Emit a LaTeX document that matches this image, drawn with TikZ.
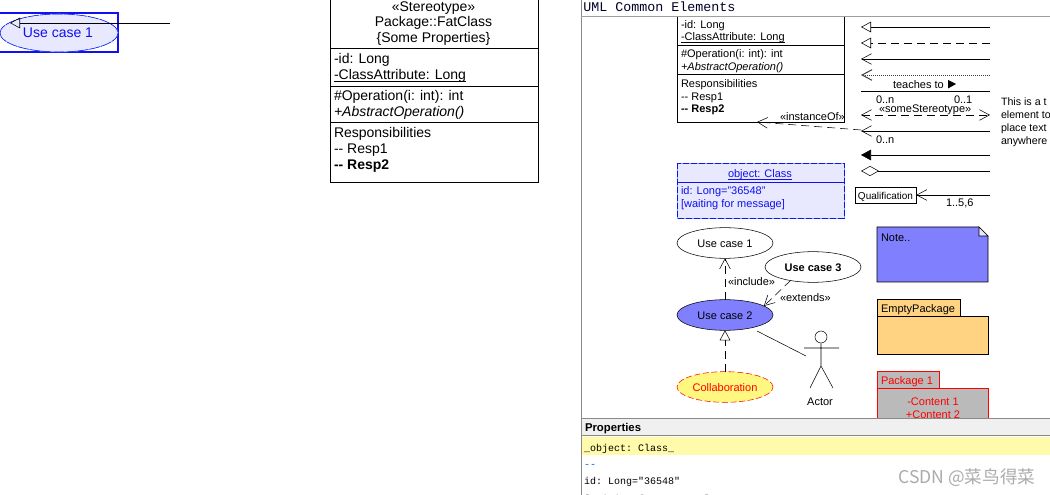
\documentclass[tikz,border=0pt]{standalone}
\usepackage{fontspec}
\setmainfont{Liberation Sans}
\setmonofont{Liberation Mono}
\newfontfamily\cjkf{Noto Sans CJK SC}
\usetikzlibrary{arrows.meta,shapes.geometric,calc}
\definecolor{selfill}{HTML}{E8E8FF}
\definecolor{selblue}{HTML}{1010F0}
\definecolor{selcyan}{HTML}{66AAFF}
\definecolor{ucblue}{HTML}{8080FF}
\definecolor{pkgorange}{HTML}{FFD382}
\definecolor{panelline}{HTML}{8A8A8A}
\newcommand\ulx[1]{\setbox0\hbox{#1}\leavevmode\rlap{\copy0}\rule[-1.5pt]{\wd0}{.7pt}}
\tikzset{
  x=.75pt,y=-.75pt,line width=.75pt,
  tx/.style={inner sep=0pt,outer sep=0pt,text height=.9em,text depth=.2em},
  txs/.style={tx,font=\fontsize{8.25pt}{10pt}\selectfont},
  txm/.style={tx,font=\fontsize{10.5pt}{12pt}\selectfont},
  txp/.style={tx,font=\ttfamily\fontsize{7.5pt}{9pt}\selectfont},
  uc/.style={ellipse,draw,inner sep=0pt,outer sep=0pt,minimum width=72pt,minimum height=23pt,text height=.9em,text depth=.2em,font=\fontsize{8.25pt}{10pt}\selectfont},
  opentri/.style={-{Triangle[open,length=7.5pt,width=8pt]}},
  openv/.style={-{Straight Barb[length=7.5pt,width=8pt]}},
  fulltri/.style={-{Triangle[length=7.5pt,width=8pt]}},
  opendia/.style={-{Diamond[open,length=13.5pt,width=7.5pt]}},
  dsh/.style={dash pattern=on 6pt off 3.75pt}
}
\begin{document}
\begin{tikzpicture}
\useasboundingbox (0,0) rectangle (1050,495);
\clip (0,0) rectangle (1050,495);
\fill[white] (0,0) rectangle (1050,495);

% --- selected use case, top left
\draw[selblue,line width=1pt] (-2,13) rectangle (118,52);
\node[ellipse,fill=selfill,draw=selcyan,inner sep=0pt,minimum width=88.5pt,minimum height=28.5pt] (sel) at (59,33) {};
\draw[selblue,dash pattern=on 8pt off 1pt] (sel.center) ++(-59,0) arc[start angle=180,end angle=-180,x radius=59,y radius=19];
\node[txm,text=selblue] (sellabel) at (58,33) {Use case 1};
\coordinate (selend) at (170,23);
\coordinate (seltip) at (10,23);
\draw[opentri] (selend) -- (seltip);

% --- large class
\node[draw,rectangle,inner sep=0pt,outer sep=0pt,anchor=north west,minimum width=156pt,minimum height=138pt] (big) at (330,-2) {};
\draw (330,48) -- (538,48) (330,86) -- (538,86) (330,122.5) -- (538,122.5);
\node[txm] (b1) at (433.5,7) {«Stereotype»};
\node[txm] (b2) at (433.5,22) {Package::FatClass};
\node[txm] (b3) at (433.5,38) {\{Some Properties\}};
\node[txm,anchor=west] (b4) at (334,59) {-id: Long};
\node[txm,anchor=west] (b5) at (334,75) {\ulx{-ClassAttribute: Long}};
\node[txm,anchor=west] (b6) at (334,96) {\#Operation(i: int): int};
\node[txm,anchor=west] (b7) at (334,112) {\itshape +AbstractOperation()};
\node[txm,anchor=west] (b8) at (334,133) {Responsibilities};
\node[txm,anchor=west] (b9) at (334,149) {-{}- Resp1};
\node[txm,anchor=west] (b10) at (334,165) {\bfseries -{}- Resp2};

% --- panel frame
\draw[panelline] (581,0) -- (581,495);
\draw[black!38] (581,16.5) -- (1050,16.5);
\node[inner sep=0pt,anchor=west,text=black!85!blue,font=\ttfamily\fontsize{10pt}{12pt}\selectfont] (title) at (583,7) {UML Common Elements};

% --- small class
\draw (677,17) -- (677,122) -- (844,122) -- (844,17);
\draw (677,45.5) -- (844,45.5) (677,74) -- (844,74);
\node[txs,anchor=west] (s1) at (681,24) {-id: Long};
\node[txs,anchor=west] (s2) at (681,36) {\ulx{-ClassAttribute: Long}};
\node[txs,anchor=west] (s3) at (681,53) {\#Operation(i: int): int};
\node[txs,anchor=west] (s4) at (681,66) {\itshape +AbstractOperation()};
\node[txs,anchor=west] (s5) at (681,83) {Responsibilities};
\node[txs,anchor=west] (s6) at (681,96) {-{}- Resp1};
\node[txs,anchor=west] (s7) at (681,108) {\bfseries -{}- Resp2};

% --- connector samples
\foreach \n/\y in {a/27,b/43,c/59,d/75,e/91,f/115,g/131,h/155,i/171,j/195}{
  \coordinate (\n R) at (990,\y);
  \coordinate (\n L) at (861,\y);
}
\draw[opentri] (aR) -- (aL);
\draw[opentri,dsh] (bR) -- (bL);
\draw[openv] (cR) -- (cL);
\draw[-{Straight Barb[length=7.5pt,width=8pt,line width=.75pt]},line width=.5pt,black!75,dash pattern=on .75pt off .75pt] (dR) -- (dL);
\draw (eR) -- (eL);
\draw[{Straight Barb[length=7.5pt,width=8pt]}-{Straight Barb[length=7.5pt,width=8pt]},dsh] (fL) -- (fR);
\draw[openv] (gR) -- (gL);
\draw[fulltri] (hR) -- (hL);
\draw[opendia] (iR) -- (iL);
\node[draw,inner sep=0pt,minimum width=45.75pt,minimum height=12pt,text height=.9em,text depth=.2em,font=\fontsize{7.5pt}{9pt}\selectfont] (qual) at (885.5,195) {Qualification};
\draw[openv] (jR) -- (qual.east);

\node[txs,anchor=west] (teach) at (893,84) {teaches to};
\coordinate (tr1) at (948,80); \coordinate (tr2) at (948,88.5); \coordinate (tr3) at (956,84);
\fill (tr1) -- (tr2) -- (tr3) -- cycle;
\node[txs,anchor=west] (n1) at (876,99) {0..n};
\node[txs,anchor=west] (n2) at (954,99) {0..1};
\node[txs,anchor=west] (n3) at (879,108) {«someStereotype»};
\node[txs,anchor=west] (n4) at (876,139) {0..n};
\node[txs,anchor=west] (n5) at (946,202) {1..5,6};

\coordinate (instS) at (861,130);
\coordinate (instT) at (757,122);
\draw[openv,dsh] (instS) -- (instT);
\node[txs,anchor=west] (inst) at (780,116) {«instanceOf»};

\foreach \i/\y/\t in {1/101/This is a t,2/114/element to,3/127/place text,4/140/anywhere}{
  \node[tx,anchor=west,font=\fontsize{8pt}{10pt}\selectfont] (free\i) at (1001,\y) {\t};
}

% --- object box
\fill[selfill] (677,163) rectangle (844,218);
\draw[selcyan] (677,163) rectangle (844,218);
\draw[selblue,dash pattern=on 4.5pt off 1.5pt] (677,163) rectangle (844,218);
\draw[selblue] (677,182) -- (844,182);
\node[txs,text=selblue] (o1) at (760,173) {\ulx{object: Class}};
\node[txs,text=selblue,anchor=west] (o2) at (681,190) {id: Long="36548"};
\node[txs,text=selblue,anchor=west] (o3) at (681,203) {[waiting for message]};

% --- use cases
\node[uc,fill=white] (uc1) at (725,243) {Use case 1};
\node[uc,fill=white,font=\fontsize{8.25pt}{10pt}\selectfont\bfseries] (uc3) at (813,267) {Use case 3};
\node[uc,fill=ucblue] (uc2) at (725,315) {Use case 2};
\node[uc,fill=yellow!50,draw=red,dash pattern=on 4.5pt off 2pt,text=red] (collab) at (725,387) {Collaboration};
\draw[openv,dsh] (uc2) -- (uc1);
\draw[openv,dsh] (uc3.211) -- (uc2.13);
\draw[opentri,dsh] (collab) -- (uc2);
\node[txs,anchor=west] (incl) at (728,281) {«include»};
\node[txs,anchor=west] (ext) at (780,297) {«extends»};

% --- actor
\node[circle,draw,inner sep=0pt,minimum size=9pt] (head) at (821,337) {};
\coordinate (hip) at (821,366);
\coordinate (armL) at (804,348); \coordinate (armR) at (839,348);
\coordinate (legL) at (810,388); \coordinate (legR) at (833,388);
\draw (head) -- (hip) (armL) -- (armR) (legL) -- (hip) -- (legR);
\node[txs] (actor) at (820,401) {Actor};
\coordinate (assocA) at (757,331);
\coordinate (assocB) at (806,356);
\draw (assocA) -- (assocB);

% --- note
\draw[fill=ucblue] (877,227) -- (979,227) -- (988,236) -- (988,282) -- (877,282) -- cycle;
\draw[fill=selfill] (979,227) -- (979,236) -- (988,236) -- cycle;
\node[txs,anchor=west] (note) at (881,237) {Note..};

% --- empty package
\draw[fill=pkgorange] (877,299) rectangle (960,316);
\draw[fill=pkgorange] (877,316) rectangle (988,354);
\node[txs,anchor=west] (emp) at (881,308) {EmptyPackage};

% --- package 1
\draw[red,fill=black!27] (877,371) rectangle (939,388);
\draw[red,fill=black!27] (877,388) rectangle (988,440);
\node[txs,anchor=west,text=red] (pk) at (881,380) {Package 1};
\node[txs,text=red] (pk1) at (933,401) {-Content 1};
\node[txs,text=red] (pk2) at (933,414) {+Content 2};

% --- properties panel
\fill[white] (582,419) rectangle (1050,495);
\fill[black!6] (582,419) rectangle (1050,435);
\draw[panelline] (581,418.5) -- (1050,418.5);
\draw[panelline] (581,435.5) -- (1050,435.5);
\fill[yellow!33!white] (582,437) rectangle (1050,455);
\node[tx,anchor=west,font=\fontsize{8.5pt}{10pt}\selectfont\bfseries] (prop) at (585,427) {Properties};
\node[txp,anchor=west] (p1) at (584,447) {\_object: Class\_};
\node[txp,anchor=west,text=blue!70!cyan] (p2) at (584,463) {-{}-};
\node[txp,anchor=west] (p3) at (584,480) {id: Long="36548"};
\node[txp,anchor=west] (p4) at (584,498) {[waiting for message]};
\node[inner sep=0pt,anchor=west,text=black!33,font=\cjkf\fontsize{13.2pt}{15pt}\selectfont] (wm) at (898,478) {CSDN @菜鸟得菜};
\end{tikzpicture}
\end{document}
